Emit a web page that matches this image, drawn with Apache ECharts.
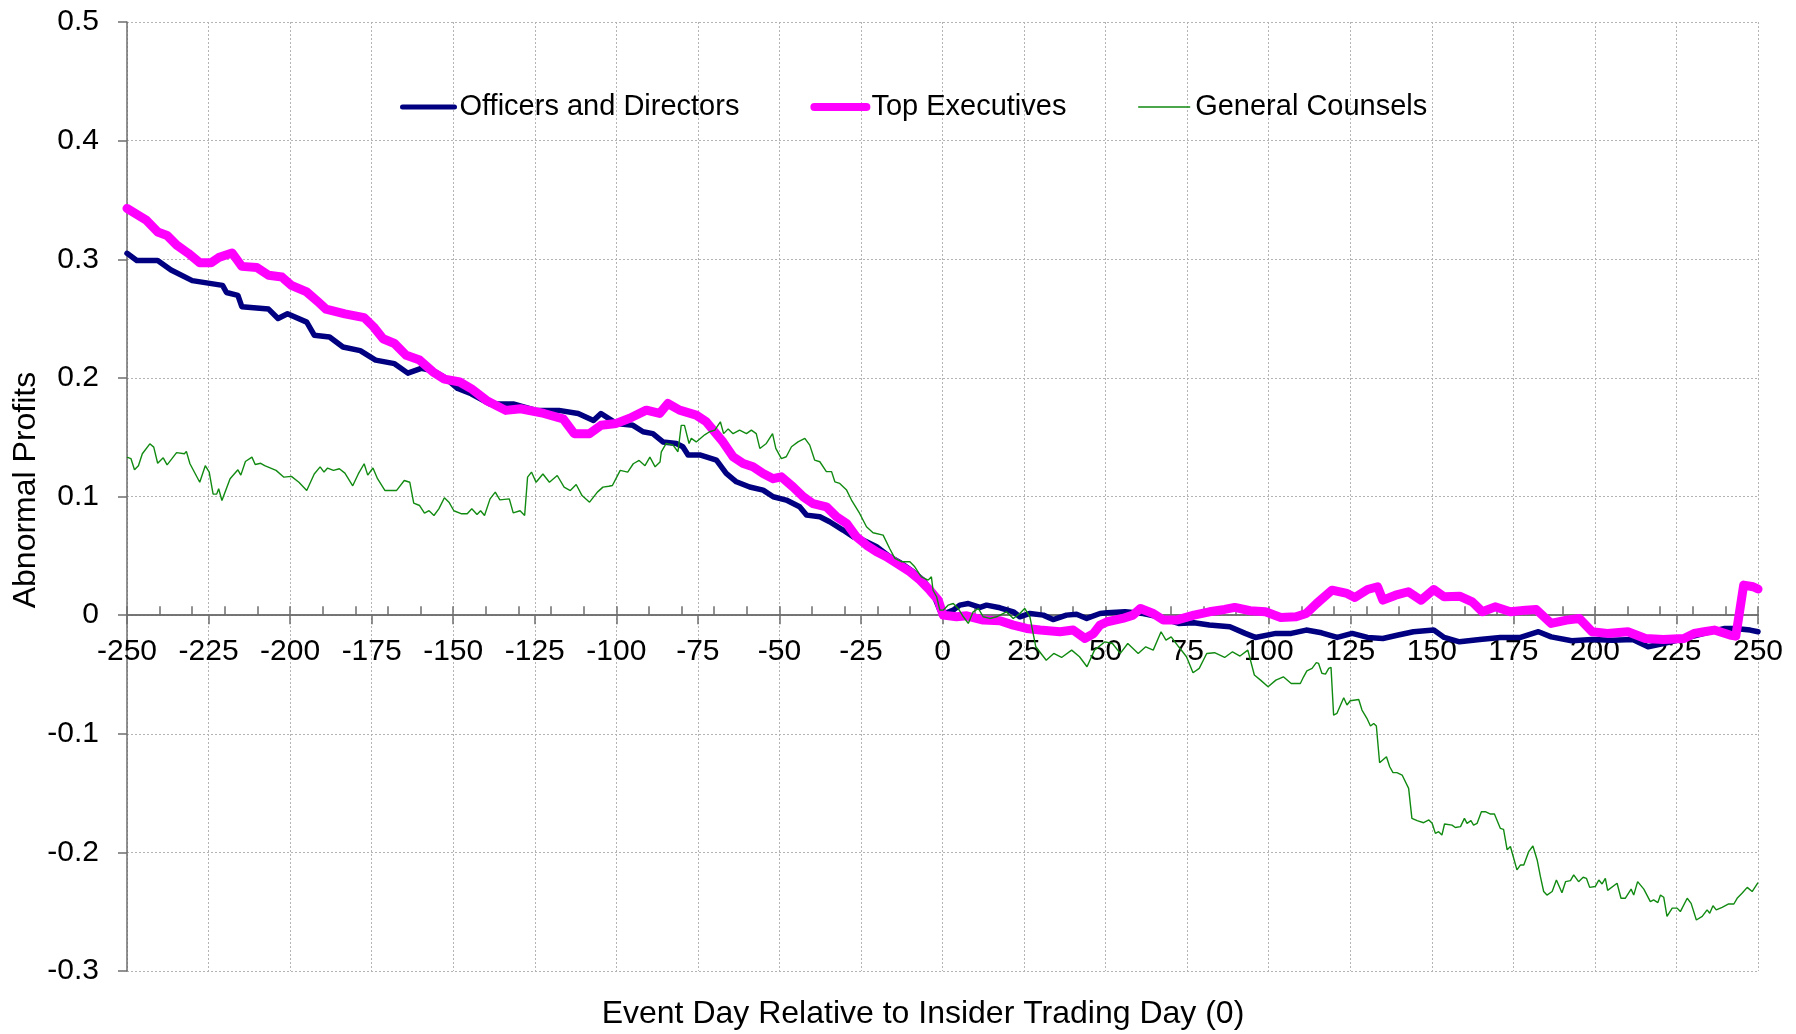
<!DOCTYPE html>
<html>
<head>
<meta charset="utf-8">
<title>Abnormal Profits</title>
<script src="https://cdn.jsdelivr.net/npm/echarts@6/dist/echarts.min.js"></script>
<style>
  html, body { margin: 0; padding: 0; background: #fff; }
  #main { width: 1796px; height: 1034px; }
</style>
</head>
<body>
<div id="main"></div>
<script>
// 数据
var odDays = [-250,-247,-240.6,-236.5,-230,-220.7,-219.5,-216,-214.8,-206.6,-203.7,-200.8,-194.9,-192.6,-187.9,-183.8,-178.5,-173.8,-168,-163.9,-159.8,-156.2,-152.7,-148.6,-144.5,-138.7,-131.6,-124.6,-117.6,-111.7,-107,-104.7,-100,-94.9,-91.8,-88.8,-85.7,-81.6,-79.6,-78,-74.4,-69.3,-66.3,-63.2,-59.1,-55,-51.9,-47.9,-43.8,-41.7,-37.6,-34.6,-30.5,-27.4,-24.3,-20.2,-16.2,-12.6,-9,-5.9,-2.9,-0.8,0.7,3.3,5.3,7.9,11.5,13.5,17.6,21.7,23.7,26.8,30.9,33.9,38,41.1,44.2,48.3,50.5,56,61.5,66.2,72.4,77.1,81.8,88.1,92.8,95.9,102.2,106.9,111.5,116.2,121,125.6,130.3,135,139.7,144.4,150.6,153.8,158.5,164.7,171,177.2,182.7,186.6,192.9,199.1,205.4,211.6,216.3,221,227.3,233.5,239.8,242.9,247.6,250];
var odVals = [.305,.299,.299,.291,.282,.278,.272,.2696,.26,.258,.25,.254,.247,.236,.2345,.226,.223,.215,.212,.204,.208,.206,.2007,.191,.1866,.178,.178,.1726,.1726,.17,.164,.17,.1616,.16,.1546,.153,.146,.1447,.142,.135,.135,.1307,.1194,.1124,.108,.1054,.0998,.097,.0913,.0843,.0829,.0787,.0717,.066,.0632,.0576,.0492,.0436,.0365,.0295,.0183,.0042,.0014,.0042,.0084,.0098,.0065,.0084,.0062,.0028,-.0014,.0014,0,-.0037,0,.0008,-.0028,.0014,.002,.0028,.0014,-.0014,-.007,-.0065,-.0084,-.0098,-.0154,-.0188,-.0154,-.0154,-.0126,-.0149,-.0188,-.0154,-.0188,-.0197,-.0168,-.014,-.0126,-.0188,-.0225,-.0205,-.0188,-.0188,-.014,-.0183,-.0216,-.0205,-.0211,-.0205,-.0267,-.0239,-.0197,-.0154,-.0112,-.0112,-.0126,-.014];

var teDays = [-250,-246.5,-244.1,-240.6,-237.7,-234.8,-231.2,-227.7,-224.2,-221.9,-217.8,-214.8,-210.2,-206.6,-202.5,-199.6,-194.9,-191.4,-189,-183.2,-177.3,-174.4,-171.5,-168,-164.4,-160.3,-156.2,-152.7,-148,-144.5,-139.8,-133.9,-129.3,-122.2,-116.3,-112.9,-108.2,-104.7,-100,-95.9,-90.8,-86.7,-84.2,-80.6,-75.5,-72.4,-70.3,-67.3,-64.2,-61.1,-58.1,-55,-51.9,-49.4,-45.8,-42.7,-39.7,-35.6,-32.5,-29.4,-26.4,-23.3,-20.2,-17.2,-13.1,-10,-6.9,-3.9,-1.3,0.2,4.3,7.4,12.5,17.6,21.7,25.8,29.9,36,40.1,43.7,46.3,48.3,50.5,55.2,58.4,60.7,64.6,67.7,71.7,77.1,81.8,86.5,89.6,94.3,99,103.7,108.4,111.5,114.7,119.4,124,126.4,130.3,133.4,135,138.9,142.8,146.7,150.6,153.8,158.5,162.4,165.5,169.4,174.1,178.8,182,186.6,191.3,195.2,199.1,203.8,210.1,215.5,221,227.3,230.4,233.5,236.6,241.4,243.2,245.6,248.5,250];
var teVals = [.3428,.337,.333,.323,.32,.312,.305,.297,.297,.3014,.3053,.294,.293,.2865,.285,.278,.2724,.264,.258,.254,.2508,.243,.233,.229,.219,.215,.205,.199,.1965,.191,.181,.1726,.174,.17,.1655,.153,.153,.16,.1616,.166,.1728,.17,.1784,.1728,.1686,.163,.156,.146,.1335,.1279,.125,.1194,.115,.1166,.108,.0998,.094,.0913,.083,.0773,.066,.059,.0534,.0492,.042,.0365,.0295,.021,.0126,0,-.0014,-.0006,-.0042,-.0048,-.0084,-.0112,-.0126,-.014,-.0126,-.0197,-.0155,-.0084,-.0056,-.0028,0,.0056,.0014,-.0042,-.0042,0,.0028,.0048,.0065,.0037,.0028,-.002,-.0014,.0014,.0098,.021,.0183,.0149,.0216,.0239,.0126,.0168,.0197,.0126,.0216,.0154,.016,.0112,.0028,.007,.0028,.0042,.0048,-.007,-.0042,-.0028,-.014,-.0154,-.014,-.0197,-.0205,-.0197,-.0154,-.014,-.0126,-.0168,-.0177,.0253,.0239,.022];

var gcDays = [-250,-248.8,-247.7,-246.5,-245.3,-243,-241.8,-240.6,-238.9,-237.7,-234.8,-232.4,-231.8,-230.7,-227.7,-226,-224.8,-223.6,-222.5,-221.9,-220.9,-218.4,-216,-215.1,-213.7,-211.7,-210.7,-209,-207.8,-204.3,-201.9,-199.6,-197.3,-194.9,-192.6,-190.8,-189.6,-188.5,-186.7,-184.9,-183.2,-180.8,-179.1,-177.3,-176.2,-174.6,-173.2,-170.9,-167.4,-165,-163.3,-162.1,-160.3,-158.8,-157.4,-155.9,-154.4,-152.7,-151.3,-149.8,-147.4,-145.7,-144.3,-142.7,-141.6,-140.4,-138.7,-137.1,-135.7,-132.8,-131.6,-129.5,-128.1,-127.2,-126,-124.6,-122.5,-120.5,-118.1,-116,-114.1,-112.3,-110.5,-108.2,-105.8,-104.1,-102.3,-101.2,-98.8,-96.5,-94.8,-93,-91.2,-89.7,-88.1,-86.6,
  -86.2,-84.7,-82.6,-81.1,-80.1,-79.1,-77.7,-77,-75.5,-72.9,-71.4,-69.8,-68.1,-67.1,-65.7,-64.2,-62.2,-60.1,-58.6,-57.1,-56,-54,-52.1,-51.1,-49.4,-47.9,-46.3,-44.3,-42.2,-40.7,-39.2,-37.6,-35.6,-34,-33,-31.5,-29.4,-27.9,-25.4,-23.3,-21.3,-18.2,-16.2,-14.6,-12.6,-10,-8.5,-6.5,-4.4,-3.4,-2.9,-1.8,-0.8,0.2,1.7,3.3,4.8,6.4,7.9,9.4,11,12.5,14.5,16.6,19.6,21.7,23.7,25.2,26.8,
  28.6,31.8,34.1,36.5,39.6,42,44.3,46.6,49.8,52.1,54.5,56.8,60,62.3,64.6,67,68.5,70.1,72.4,74.8,76.8,78.7,81,83.4,86.5,88.9,91.2,93.6,95.6,97.5,99.8,102.2,104.5,106.9,
  109.7,110.7,111.7,113.3,114.6,115.3,116.3,117.4,118.4,119.1,119.9,120.9,123,124,125,127.6,128.6,130.1,131.2,132.2,133,134,136.1,137.1,138.1,139.3,140.9,142.9,143.9,145.5,147.5,149.1,150.1,151.1,152.1,153.1,153.9,156.2,157.2,158.8,160,160.8,162,162.8,163.9,165.2,166.4,168,169.2,171,172,173.1,174.1,176.1,177.2,178.2,179.7,181,182.3,183.3,184.3,185.3,186.9,188.2,189.9,191,192.5,193.5,195,196.4,197.4,198.4,200.1,201.2,202.2,203.2,203.9,206.8,208,209.3,211.1,211.9,213.1,215,217,218,219.3,220.1,221.1,222.1,223.7,225.2,226.2,228.3,229.5,231.1,232.9,234.4,235.2,236.2,237.2,239,241,242.6,243.6,245.1,246.7,248.2,250];
var gcVals = [.1332,.132,.1225,.126,.136,.1444,.1416,.128,.1326,.1267,.137,.136,.138,.1276,.112,.126,.1206,.102,.102,.1065,.0966,.115,.1225,.118,.1295,.1332,.127,.128,.126,.122,.1163,.117,.112,.105,.119,.125,.1206,.124,.122,.1234,.1197,.109,.119,.1276,.118,.124,.115,.105,.105,.1135,.112,.0944,.0924,.0859,.088,.084,.0896,.0989,.0952,.088,.0854,.0854,.0896,.0848,.088,.084,.098,.1037,.0972,.098,.0862,.088,.084,.1163,.1206,.112,.119,.112,.1177,.1079,.105,.1101,.1008,.0952,.1037,.1079,.1086,.1093,.122,.1206,.1276,.1304,.126,.1332,.125,.129,
  .1377,.1447,.1433,.1377,.16,.16,.1447,.149,.146,.152,.1546,.156,.163,.153,.157,.153,.156,.153,.156,.153,.1405,.1447,.153,.1405,.132,.1335,.1419,.146,.149,.1433,.1307,.1293,.121,.121,.1124,.111,.1054,.097,.0857,.0745,.0694,.0674,.0562,.0478,.045,.045,.0407,.0323,.0295,.0323,.021,.0155,.0042,.0042,.0084,.0098,.0056,-.0014,-.007,.0028,.0056,-.0014,-.0028,-.0014,.0028,-.0028,.0014,.0056,-.0014,
  -.0267,-.038,-.0323,-.0357,-.0295,-.0351,-.0435,-.0295,-.0225,-.0239,-.0323,-.0239,-.0323,-.0267,-.0295,-.014,-.021,-.0183,-.0267,-.0351,-.0486,-.0449,-.0323,-.0317,-.0357,-.0309,-.0345,-.0295,-.0505,-.0548,-.0604,-.0548,-.052,-.0576,
  -.0576,-.052,-.047,-.0449,-.0401,-.0407,-.049,-.0497,-.0449,-.044,-.0843,-.0829,-.0696,-.0758,-.0722,-.0711,-.08,-.087,-.0935,-.0913,-.0935,-.1244,-.1194,-.1278,-.1328,-.1328,-.1348,-.146,-.1713,-.1733,-.175,-.1727,-.1755,-.184,-.1826,-.1854,-.1761,-.177,-.179,-.1783,-.1713,-.1755,-.1733,-.177,-.1755,-.1657,-.1657,-.1677,-.1677,-.1797,-.1806,-.1979,-.195,-.2148,-.2106,-.2106,-.1994,-.1946,-.2064,-.2205,-.233,-.236,-.233,-.2233,-.234,-.2247,-.2238,-.219,-.2247,-.221,-.2219,-.2295,-.2288,-.2233,-.2266,-.2219,-.232,-.226,-.2387,-.2387,-.231,-.236,-.2247,-.231,-.2415,-.24,-.2423,-.236,-.2378,-.254,-.247,-.247,-.2499,-.2387,-.243,-.257,-.254,-.2485,-.2513,-.245,-.2485,-.2463,-.2435,-.2435,-.2387,-.2345,-.2295,-.233,-.2255];

var seriesNames = ['Officers and Directors', 'Top Executives', 'General Counsels'];
var xMin = -250, xMax = 250, xStep = 25, xMinorStep = 10;
var yMin = -0.3, yMax = 0.5, yStep = 0.1;

function pairs(days, vals) {
  var out = [];
  for (var i = 0; i < days.length; i++) out.push([days[i], vals[i]]);
  return out;
}

var FONT = '"Liberation Sans", Arial, sans-serif';
var gridColor = '#b4b4b4';
var axisColor = '#6e6e6e';
var W = 1796, H = 1034;
var gridBox = { left: 127, right: 38, top: 22, bottom: 63, containLabel: false, outerBoundsMode: 'none' };
// 把x轴移到 y=0 那条线上 (offset upward from the grid bottom)
var plotH = H - gridBox.top - gridBox.bottom;
var zeroOffset = -plotH * (0 - yMin) / (yMax - yMin);

var chart = echarts.init(document.getElementById('main'));
chart.setOption({
  animation: false,
  backgroundColor: '#fff',
  textStyle: { fontFamily: FONT },
  grid: [gridBox, echarts.util.clone(gridBox)],
  legend: {
    left: 395, top: 87,
    itemWidth: 52, itemHeight: 30, itemGap: 71,
    textStyle: { fontSize: 29, color: '#000', fontFamily: FONT, lineHeight: 30 },
    // hide the legend symbol, keep only the line
    data: [
      { name: seriesNames[0], lineStyle: { width: 5 }, itemStyle: { opacity: 0 } },
      { name: seriesNames[1], lineStyle: { width: 8 }, itemStyle: { opacity: 0 } },
      { name: seriesNames[2], lineStyle: { width: 1.5 }, itemStyle: { opacity: 0 } }
    ]
  },
  xAxis: [{
    gridIndex: 0, position: 'bottom', offset: zeroOffset,
    type: 'value', min: xMin, max: xMax, interval: xStep,
    axisLine: { show: true, onZero: false, lineStyle: { color: axisColor, width: 1.5 } },
    axisTick: { show: true, length: 9, lineStyle: { color: axisColor, width: 1.5 } },
    axisLabel: { fontSize: 30, color: '#000', margin: 22, fontFamily: FONT },
    splitLine: { show: true, lineStyle: { color: gridColor, type: [2, 2], width: 1 } }
  }, {
    // 小刻度, every 10 days, pointing up
    gridIndex: 1, position: 'bottom', offset: zeroOffset,
    type: 'value', min: xMin, max: xMax, interval: xMinorStep,
    axisLine: { show: true, onZero: false, lineStyle: { color: axisColor, width: 1.5 } },
    axisTick: { show: true, inside: true, length: 9, lineStyle: { color: axisColor, width: 1.5 } },
    axisLabel: { show: false },
    splitLine: { show: false }
  }],
  yAxis: [{
    gridIndex: 0,
    type: 'value', min: yMin, max: yMax, interval: yStep,
    axisLine: { show: true, onZero: false, lineStyle: { color: axisColor, width: 1.5 } },
    axisTick: { show: true, length: 9, lineStyle: { color: axisColor, width: 1.5 } },
    axisLabel: {
      fontSize: 30, color: '#000', margin: 28, fontFamily: FONT,
      formatter: function (v) { return String(Math.round(v * 10) / 10); }
    },
    splitLine: { show: true, lineStyle: { color: gridColor, type: [2, 2], width: 1 } }
  }, {
    gridIndex: 1,
    type: 'value', min: yMin, max: yMax, interval: yStep,
    axisLine: { show: false, onZero: false },
    axisTick: { show: false },
    axisLabel: { show: false },
    splitLine: { show: false }
  }],
  graphic: [{
    type: 'text',
    x: 923, y: 1014,
    style: { text: 'Event Day Relative to Insider Trading Day (0)', font: '32px ' + FONT, fill: '#000', align: 'center', verticalAlign: 'middle' }
  }, {
    type: 'text', rotation: Math.PI / 2,
    x: 10, y: 490,
    style: { text: 'Abnormal Profits', font: '32px ' + FONT, fill: '#000', align: 'center', verticalAlign: 'top' }
  }],
  series: [{
    name: seriesNames[0], type: 'line', symbol: 'none', xAxisIndex: 0, yAxisIndex: 0,
    data: pairs(odDays, odVals),
    lineStyle: { color: '#000080', width: 5.5, join: 'round', cap: 'round' },
    itemStyle: { color: '#000080' }
  }, {
    name: seriesNames[1], type: 'line', symbol: 'none', xAxisIndex: 0, yAxisIndex: 0,
    data: pairs(teDays, teVals),
    lineStyle: { color: '#ff00ff', width: 9, join: 'round', cap: 'round' },
    itemStyle: { color: '#ff00ff' }
  }, {
    name: seriesNames[2], type: 'line', symbol: 'none', xAxisIndex: 0, yAxisIndex: 0,
    data: pairs(gcDays, gcVals),
    lineStyle: { color: '#118a11', width: 1.4 },
    itemStyle: { color: '#118a11' }
  }]
});
window.onresize = chart.resize;
</script>
</body>
</html>
